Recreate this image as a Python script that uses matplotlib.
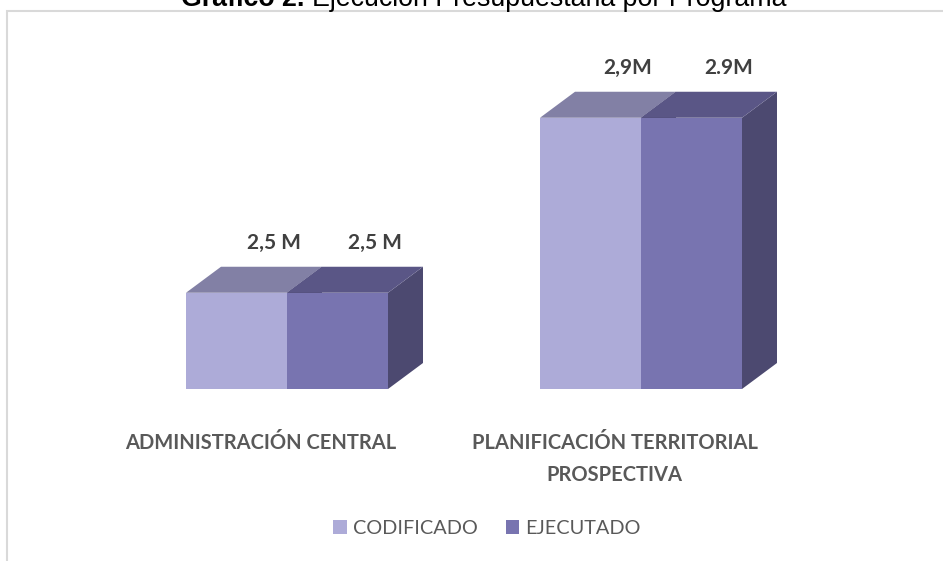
import matplotlib
matplotlib.use("Agg")
import matplotlib.pyplot as plt
from matplotlib.patches import Polygon, Rectangle

categories = ["ADMINISTRACIÓN CENTRAL", "PLANIFICACIÓN TERRITORIAL\nPROSPECTIVA"]
series_names = ["CODIFICADO", "EJECUTADO"]
codificado = [2.5, 2.9]
ejecutado = [2.5, 2.9]
labels_cod = ["2,5 M", "2,9M"]
labels_eje = ["2,5 M", "2.9M"]

AXIS_MIN = 2.28
front = ["#ADABD8", "#7874B0"]
top = ["#8280A5", "#5A5686"]
side = ["#4C4970", "#4C4970"]

W, H, DPI = 943, 561, 100
fig = plt.figure(figsize=(W / DPI, H / DPI), dpi=DPI)
plt.rcParams['font.family'] = ['Lato', 'DejaVu Sans']

# chart border
fig.patches.append(Rectangle((7 / W, -0.05), 1.2, (H - 11) / H + 0.05, transform=fig.transFigure,
                             fill=False, edgecolor="#D9D9D9", linewidth=1.5))

# title (partially cut at top, as in the reference)
fig.text(304 / W, 1 - 6 / H, "Gráfico 2.", ha="right", va="baseline", fontsize=19.3,
         fontweight="bold", family="Liberation Sans", color="black")
fig.text(312 / W, 1 - 6 / H, "Ejecución Presupuestaria por Programa", ha="left", va="baseline",
         fontsize=19.3, family="Liberation Sans", color="black")

left_px, right_px, bot_px, top_px = 130, 830, 389, 60
ax = fig.add_axes([left_px / W, 1 - bot_px / H, (right_px - left_px) / W, (bot_px - top_px) / H])
unit = 354.0
ax.set_xlim((left_px - 287) / unit, (right_px - 287) / unit)
ax.set_ylim(AXIS_MIN, AXIS_MIN + (bot_px - top_px) / 437.5)
ax.set_autoscale_on(False)
ax.axis("off")

bw = 101 / unit
x = [0, 1]
series = [codificado, ejecutado]
bars = []
for i, vals in enumerate(series):
    pos = [xi + (i - 0.5) * bw for xi in x]
    b = ax.bar(pos, [v - AXIS_MIN for v in vals], bw, bottom=AXIS_MIN, color=front[i],
               zorder=10 + 3 * i, linewidth=0)
    bars.append(b)

fig.canvas.draw()
DX, DY = 35, 26
inv = ax.transData.inverted()
for i, b in enumerate(bars):
    for r in b.patches:
        (x0, y0), (x1, y1) = ax.transData.transform([(r.get_x(), r.get_y()),
                                                     (r.get_x() + r.get_width(), r.get_y() + r.get_height())])
        topv = inv.transform([(x0, y1), (x1, y1), (x1 + DX, y1 + DY), (x0 + DX, y1 + DY)])
        sidev = inv.transform([(x1, y0), (x1 + DX, y0 + DY), (x1 + DX, y1 + DY), (x1, y1)])
        ax.add_patch(Polygon(topv, closed=True, facecolor=top[i], edgecolor="none",
                             zorder=10 + 3 * i + 1, clip_on=False))
        ax.add_patch(Polygon(sidev, closed=True, facecolor=side[i], edgecolor="none",
                             zorder=10 + 3 * i - 1, clip_on=False))

# value labels
for i, (b, labs) in enumerate(zip(bars, [labels_cod, labels_eje])):
    for r, lab in zip(b.patches, labs):
        ax.annotate(lab, (r.get_x() + r.get_width() / 2, r.get_y() + r.get_height()),
                    xytext=(27, 36), textcoords="offset points", ha="center", va="center",
                    fontsize=15, fontweight="bold", color="#404040", zorder=30)

# category labels
for xi, cat in zip(x, categories):
    ax.annotate(cat, (xi, AXIS_MIN), xytext=(-19, -32), textcoords="offset points",
                ha="center", va="top", fontsize=14.5, fontweight="bold", color="#595959",
                linespacing=1.75, annotation_clip=False)

# legend
handles = [Rectangle((0, 0), 1, 1, facecolor=front[i], edgecolor="none") for i in range(2)]
fig.legend(handles, series_names, loc="center", bbox_to_anchor=(487 / W, 1 - 528 / H), ncol=2,
           frameon=False, fontsize=14.3, labelcolor="#595959", handlelength=0.7, handleheight=0.7,
           handletextpad=0.3, columnspacing=1.4)

fig.savefig("out.png", dpi=DPI)
